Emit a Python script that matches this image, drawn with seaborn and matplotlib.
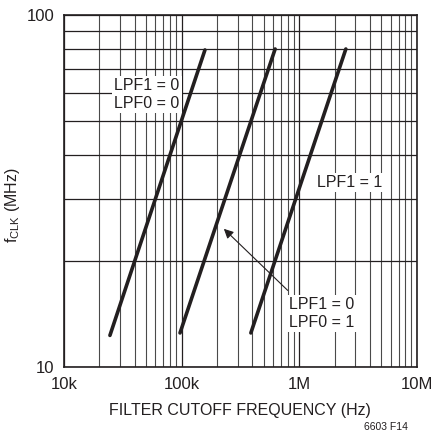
import numpy as np
import matplotlib
matplotlib.use("Agg")
import matplotlib.pyplot as plt
import seaborn as sns
import pandas as pd

# line endpoints (Hz, MHz)
setting = ["LPF1=0 LPF0=0", "LPF1=0 LPF0=0", "LPF1=0 LPF0=1", "LPF1=0 LPF0=1", "LPF1=1", "LPF1=1"]
cutoff_hz = [24.6e3, 158e3, 97e3, 624e3, 388e3, 2.49e6]
fclk_mhz = [12.3, 79.5, 12.5, 80, 12.5, 80]

xticks = [1e4, 1e5, 1e6, 1e7]
xticklabels = ["10k", "100k", "1M", "10M"]
yticks = [10, 100]
yticklabels = ["10", "100"]

df = pd.DataFrame({"setting": setting, "cutoff": cutoff_hz, "fclk": fclk_mhz})

sns.set_style("white")
plt.rcParams["font.family"] = ["Liberation Sans Narrow", "Liberation Sans", "DejaVu Sans"]

ink = "#231f20"
fig = plt.figure(figsize=(4.32, 4.37), dpi=100)
ax = fig.add_axes([0.148, 0.160, 0.817, 0.806])

sns.lineplot(data=df, x="cutoff", y="fclk", hue="setting", units="setting", estimator=None,
             palette=[ink] * 3, linewidth=2.6, legend=False, ax=ax, sort=False)

ax.set_xscale("log")
ax.set_yscale("log")
ax.set_xlim(1e4, 1e7)
ax.set_ylim(10, 100)

ax.set_xticks(xticks)
ax.set_xticklabels(xticklabels)
ax.set_yticks(yticks)
ax.set_yticklabels(yticklabels)
ax.xaxis.set_minor_locator(matplotlib.ticker.LogLocator(base=10, subs=np.arange(2, 10)))
ax.yaxis.set_minor_locator(matplotlib.ticker.LogLocator(base=10, subs=np.arange(2, 10)))
ax.xaxis.set_minor_formatter(matplotlib.ticker.NullFormatter())
ax.yaxis.set_minor_formatter(matplotlib.ticker.NullFormatter())
ax.tick_params(which="both", length=0, labelsize=12, colors=ink, pad=7)
ax.grid(which="major", color=ink, linewidth=0.9)
ax.yaxis.grid(which="minor", color=ink, linewidth=0.9)
ax.xaxis.grid(which="minor", color="#4a4a4a", linewidth=0.8)
ax.set_axisbelow(True)
for s in ax.spines.values():
    s.set_color(ink)
    s.set_linewidth(1.2)

ax.set_xlabel("FILTER CUTOFF FREQUENCY (Hz)", fontsize=11.5, color=ink, labelpad=8)
ax.set_ylabel("f$_{\\mathregular{CLK}}$ (MHz)", fontsize=11.5, color=ink)
ax.yaxis.set_label_coords(-0.12, 0.46)

box = dict(facecolor="white", edgecolor="none", pad=1.5)
ax.text(5.07e4, 59.3, "LPF1 = 0\nLPF0 = 0", fontsize=11.5, ha="center", va="center",
        color=ink, bbox=box, linespacing=1.25)
ax.text(2.69e6, 33.5, "LPF1 = 1", fontsize=11.5, ha="center", va="center",
        color=ink, bbox=box)
ax.text(1.56e6, 14.2, "LPF1 = 0\nLPF0 = 1", fontsize=11.5, ha="center", va="center",
        color=ink, bbox=box, linespacing=1.25)
ax.annotate("", xy=(2.2e5, 25.0), xytext=(8.3e5, 16.3),
            arrowprops=dict(arrowstyle="-|>", color=ink, lw=0.8, mutation_scale=14))

fig.text(0.944, 0.012, "6603 F14", fontsize=7.5, ha="right", va="bottom", color=ink)

fig.savefig("out.png", dpi=100)
